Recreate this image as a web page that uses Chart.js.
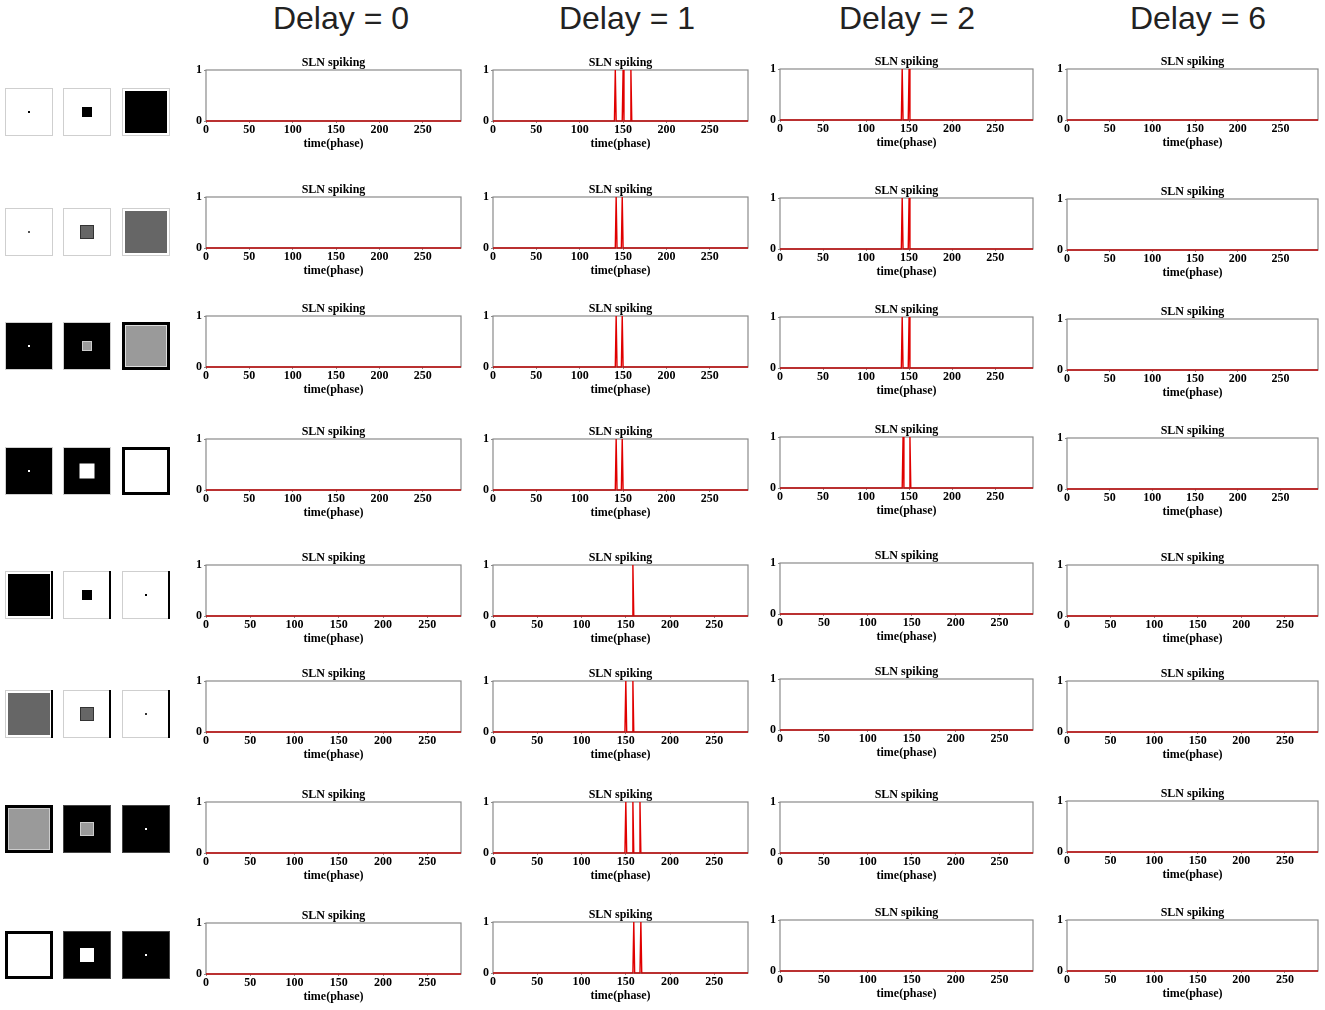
<!DOCTYPE html>
<html>
  <head>
    <script src="https://cdn.jsdelivr.net/npm/chart.js@4.4.0/dist/chart.umd.min.js"></script>
    <style>
      body { margin: 0; background: #fff; }
      #page { position: relative; width: 1325px; height: 1010px; overflow: hidden; }
      .head { position: absolute; top: 0; width: 240px; margin-left: -120px; text-align: center;
              font: 32px 'Liberation Sans', sans-serif; color: #222; line-height: 36px; }
      .tile { position: absolute; width: 48px; height: 48px; box-sizing: border-box; }
      .spot { position: absolute; left: 50%; top: 50%; transform: translate(-50%, -50%); box-sizing: border-box; }
      .bar { position: absolute; right: -1px; top: -1px; bottom: -1px; width: 2px; background: #000; }
      canvas { position: absolute; }
    </style>
  </head>

  <body>
    <div id="page"></div>
    <script>
      // column headers and spike times (phase), rows top to bottom
      const delays = ['Delay = 0', 'Delay = 1', 'Delay = 2', 'Delay = 6'];
      const panelTitle = 'SLN spiking';
      const phaseEnd = [294, 294, 294, 294, 288, 288, 288, 288];
      const spikesDelay0 = [[], [], [], [], [], [], [], []];
      const spikesDelay1 = [[141, 150, 159], [142, 149], [142, 149], [142, 149], [158], [150, 158], [150, 158, 166], [159, 167]];
      const spikesDelay2 = [[142, 150], [142, 150], [142, 150], [143, 151], [], [], [], []];
      const spikesDelay6 = [[], [], [], [], [], [], [], []];
      const xTicks = [0, 50, 100, 150, 200, 250];
      const yTicks = [0, 1];

      const spikes = [spikesDelay0, spikesDelay1, spikesDelay2, spikesDelay6];

      // layout of the panels
      const plotLeft = [206, 493, 780, 1067];
      const plotWidth = [255, 255, 253, 251];
      const plotTop = [
        [70, 197, 316, 439, 565, 681, 802, 923],
        [70, 197, 316, 439, 565, 681, 802, 922],
        [69, 198, 317, 437, 563, 679, 802, 920],
        [69, 199, 319, 438, 565, 681, 801, 920],
      ];
      const plotHeight = 51;
      const headCenter = [341, 627, 907, 1198];

      // stimulus thumbnails on the left
      const W = '#fff', K = '#000', G1 = '#666', G2 = '#9a9a9a', L = '#cfcfcf', D = '#444';
      const tileX = [5, 63, 122];
      const tileY = [88, 208, 322, 447, 571, 690, 805, 931];
      const tiles = [
        [{ bg: W, border: L, bw: 1, size: 2, fill: K }, { bg: W, border: L, bw: 1, size: 10, fill: K }, { bg: W, border: L, bw: 1, size: 42, fill: K }],
        [{ bg: W, border: L, bw: 1, size: 2, fill: '#555' }, { bg: W, border: L, bw: 1, size: 14, fill: G1, edge: '#333' }, { bg: W, border: L, bw: 1, size: 42, fill: G1 }],
        [{ bg: K, border: L, bw: 1, size: 2, fill: W }, { bg: K, border: L, bw: 1, size: 10, fill: G2, edge: '#ccc' }, { bg: G2, border: K, bw: 3, inset: '#ddd' }],
        [{ bg: K, border: L, bw: 1, size: 2, fill: W }, { bg: K, border: L, bw: 1, size: 15, fill: W }, { bg: W, border: K, bw: 3 }],
        [{ bg: W, border: L, bw: 1, size: 42, fill: K, bar: true }, { bg: W, border: L, bw: 1, size: 10, fill: K, bar: true }, { bg: W, border: L, bw: 1, size: 2, fill: K, bar: true }],
        [{ bg: W, border: L, bw: 1, size: 42, fill: G1, bar: true }, { bg: W, border: L, bw: 1, size: 14, fill: G1, edge: '#333', bar: true }, { bg: W, border: L, bw: 1, size: 2, fill: '#333', bar: true }],
        [{ bg: G2, border: K, bw: 3, inset: '#ccc' }, { bg: K, border: D, bw: 1, size: 14, fill: G2, edge: '#ccc' }, { bg: K, border: D, bw: 1, size: 2, fill: W }],
        [{ bg: W, border: K, bw: 3 }, { bg: K, border: D, bw: 1, size: 14, fill: W }, { bg: K, border: D, bw: 1, size: 2, fill: W }],
      ];

      const page = document.getElementById('page');

      delays.forEach((text, c) => {
        const h = document.createElement('div');
        h.className = 'head';
        h.style.left = headCenter[c] + 'px';
        h.textContent = text;
        page.appendChild(h);
      });

      tiles.forEach((row, r) => {
        row.forEach((t, i) => {
          const d = document.createElement('div');
          d.className = 'tile';
          d.style.left = tileX[i] + 'px';
          d.style.top = tileY[r] + 'px';
          d.style.background = t.bg;
          d.style.border = t.bw + 'px solid ' + t.border;
          if (t.inset) d.style.boxShadow = 'inset 0 0 0 1px ' + t.inset;
          if (t.size) {
            const s = document.createElement('div');
            s.className = 'spot';
            s.style.width = t.size + 'px';
            s.style.height = t.size + 'px';
            s.style.background = t.fill;
            if (t.edge) s.style.border = '1px solid ' + t.edge;
            d.appendChild(s);
          }
          if (t.bar) {
            const b = document.createElement('div');
            b.className = 'bar';
            d.appendChild(b);
          }
          page.appendChild(d);
        });
      });

      // one point per spike: 0 before, 1 at the spike, 0 after
      function spikeTrain(times, end) {
        const pts = [{ x: 0, y: 0 }];
        times.forEach((t) => {
          pts.push({ x: t - 1, y: 0 }, { x: t, y: 1 }, { x: t + 1, y: 0 });
        });
        pts.push({ x: end, y: 0 });
        return pts;
      }

      const serifFamily = "'Liberation Serif', 'Times New Roman', serif";

      // grey box round the plot, title centred on the plot area, darker bottom edge over the red line
      const frame = {
        id: 'frame',
        beforeDatasetsDraw(chart) {
          const { ctx, chartArea: a } = chart;
          ctx.save();
          ctx.strokeStyle = '#8a8a8a';
          ctx.lineWidth = 1.2;
          ctx.strokeRect(a.left, a.top, a.width, a.height);
          ctx.fillStyle = '#000';
          ctx.font = 'bold 12px ' + serifFamily;
          ctx.textAlign = 'center';
          ctx.textBaseline = 'middle';
          ctx.fillText(panelTitle, (a.left + a.right) / 2, a.top - 7);
          ctx.restore();
        },
        afterDatasetsDraw(chart) {
          const { ctx, chartArea: a } = chart;
          ctx.save();
          ctx.strokeStyle = 'rgba(90, 60, 60, 0.45)';
          ctx.lineWidth = 1.2;
          ctx.beginPath();
          ctx.moveTo(a.left, a.bottom);
          ctx.lineTo(a.right, a.bottom);
          ctx.stroke();
          ctx.restore();
        },
      };

      const serif = { family: serifFamily, weight: 'bold' };
      const gridOpts = { display: true, drawOnChartArea: false, drawTicks: true, tickLength: 2, color: '#8a8a8a' };

      spikes.forEach((col, c) => {
        col.forEach((times, r) => {
          const cv = document.createElement('canvas');
          cv.width = plotWidth[c] + 28;
          cv.height = 14 + plotHeight + 30 + 1;
          cv.style.left = (plotLeft[c] - 14) + 'px';
          cv.style.top = (plotTop[c][r] - 14) + 'px';
          page.appendChild(cv);

          new Chart(cv.getContext('2d'), {
            type: 'line',
            data: {
              datasets: [
                {
                  data: spikeTrain(times, phaseEnd[r]),
                  borderColor: '#e00000',
                  borderWidth: 1.4,
                  pointRadius: 0,
                  tension: 0,
                  clip: false,
                },
              ],
            },
            options: {
              responsive: false,
              animation: false,
              events: [],
              layout: { padding: { top: 14, right: 14, bottom: 1 } },
              plugins: {
                legend: { display: false },
                tooltip: { enabled: false },
                title: { display: false },
              },
              scales: {
                x: {
                  type: 'linear',
                  min: 0,
                  max: phaseEnd[r],
                  afterBuildTicks: (s) => {
                    s.ticks = xTicks.map((v) => ({ value: v }));
                  },
                  afterFit: (s) => {
                    s.height = 30;
                  },
                  grid: gridOpts,
                  border: { display: false },
                  ticks: { color: '#000', font: { ...serif, size: 12 }, padding: 0, maxRotation: 0, autoSkip: false },
                  title: {
                    display: true,
                    text: 'time(phase)',
                    color: '#000',
                    font: { ...serif, size: 12 },
                    padding: 0,
                  },
                },
                y: {
                  min: 0,
                  max: 1,
                  afterBuildTicks: (s) => {
                    s.ticks = yTicks.map((v) => ({ value: v }));
                  },
                  afterFit: (s) => {
                    s.width = 14;
                  },
                  grid: gridOpts,
                  border: { display: false },
                  ticks: { color: '#000', font: { ...serif, size: 12 }, padding: 2 },
                },
              },
            },
            plugins: [frame],
          });
        });
      });
    </script>
  </body>
</html>
